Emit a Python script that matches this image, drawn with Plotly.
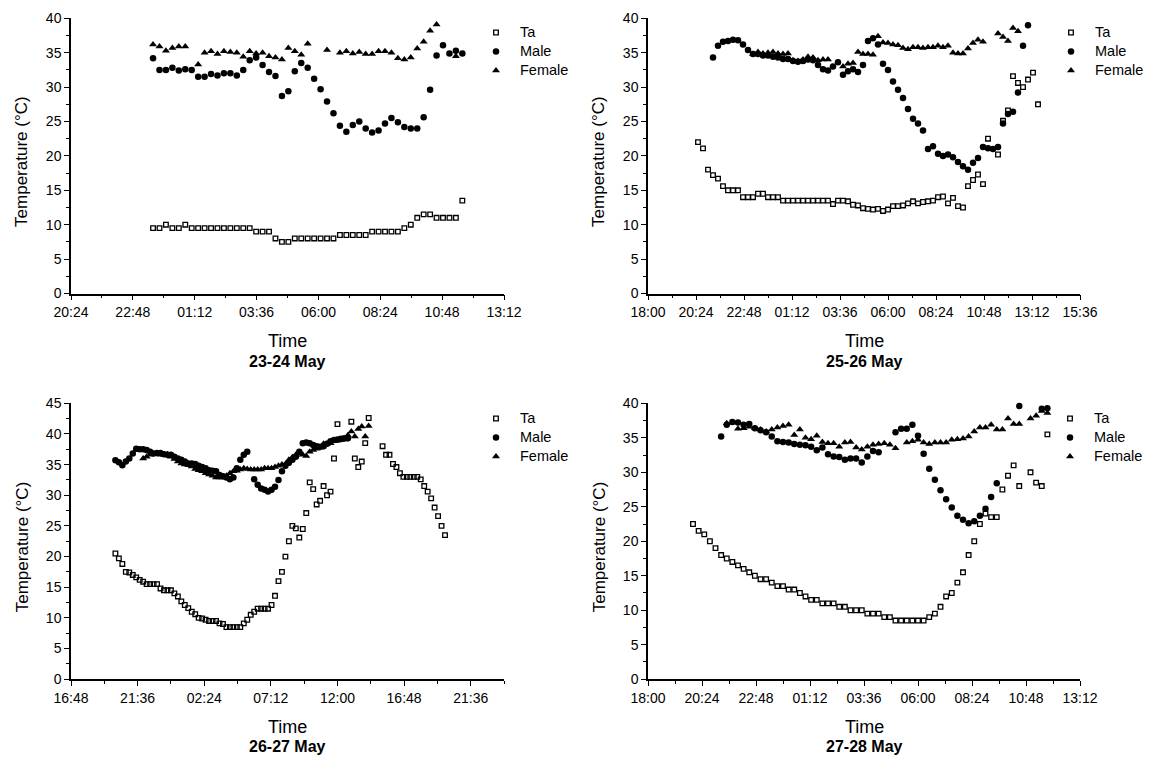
import plotly.graph_objects as go
from datetime import datetime, timedelta

# ---------------- data ----------------
# Panel 1: 23-24 May
p1_times = ("23:35 23:50 00:05 00:20 00:35 00:50 01:05 01:20 01:35 01:50 02:05 02:20 02:35 02:50 "
            "03:05 03:20 03:35 03:50 04:05 04:20 04:35 04:50 05:05 05:20 05:35 05:50 06:05 06:20 "
            "06:35 06:50 07:05 07:20 07:35 07:50 08:05 08:20 08:35 08:50 09:05 09:20 09:35 09:50 "
            "10:05 10:20 10:35 10:50 11:05 11:20 11:35").split()
p1_ta = [9.5, 9.5, 10, 9.5, 9.5, 10, 9.5, 9.5, 9.5, 9.5,
         9.5, 9.5, 9.5, 9.5, 9.5, 9.5, 9.0, 9.0, 9.0, 8.0,
         7.5, 7.5, 8.0, 8.0, 8.0, 8.0, 8.0, 8.0, 8.0, 8.5,
         8.5, 8.5, 8.5, 8.5, 9.0, 9.0, 9.0, 9.0, 9.0, 9.5,
         10, 11, 11.5, 11.5, 11, 11, 11, 11, 13.5]
p1_male = [34.2, 32.5, 32.5, 32.8, 32.4, 32.6, 32.5, 31.5, 31.5, 31.9,
           31.7, 32.0, 32.0, 31.7, 32.5, 33.9, 34.3, 33.2, 32.2, 31.6,
           28.7, 29.4, 32.3, 33.5, 32.8, 31.2, 29.7, 27.9, 26.2, 24.4,
           23.5, 24.5, 25.0, 24.0, 23.4, 23.7, 24.7, 25.5, 24.9, 24.2,
           24.0, 24.0, 25.6, 29.6, 34.6, 36.1, 34.9, 35.3, 34.9]
p1_female = [36.2, 35.9, 35.3, 35.7, 35.9, 35.9, None, 33.3, 35.0, 35.2,
             34.8, 35.2, 35.1, 35.0, 34.4, 35.2, 34.9, 35.0, 34.5, 34.3,
             34.0, 35.7, 35.2, 34.7, 36.3, None, None, 35.4, None, 35.0,
             35.2, 34.9, 35.1, 34.8, 34.8, 35.2, 35.2, 35.0, 34.2, 34.0,
             34.3, 35.6, 36.6, 38.2, 39.1, None, None, 34.5, None]

# Panel 2: 25-26 May
p2_times = ("20:30 20:45 21:00 21:15 21:30 21:45 22:00 22:15 22:30 22:45 23:00 23:15 23:30 23:45 "
            "00:00 00:15 00:30 00:45 01:00 01:15 01:30 01:45 02:00 02:15 02:30 02:45 03:00 03:15 "
            "03:30 03:45 04:00 04:15 04:30 04:45 05:00 05:15 05:30 05:45 06:00 06:15 06:30 06:45 "
            "07:00 07:15 07:30 07:45 08:00 08:15 08:30 08:45 09:00 09:15 09:30 09:45 10:00 10:15 "
            "10:30 10:45 11:00 11:15 11:30 11:45 12:00 12:15 12:30 12:45 13:00 13:15 13:30").split()
p2_ta = [22.0, 21.1, 18.0, 17.2, 16.7, 15.6, 15.0, 15.0, 15.0, 14.0,
         14.0, 14.0, 14.5, 14.5, 14.0, 14.0, 14.0, 13.5, 13.5, 13.5,
         13.5, 13.5, 13.5, 13.5, 13.5, 13.5, 13.5, 13.0, 13.5, 13.5,
         13.4, 12.9, 12.8, 12.4, 12.3, 12.2, 12.3, 12.0, 12.2, 12.7,
         12.7, 12.8, 13.1, 13.4, 13.1, 13.3, 13.4, 13.5, 14.0, 14.1,
         13.1, 13.9, 12.7, 12.5, 15.6, 16.5, 17.3, 15.9, 22.5, None,
         20.2, 25.1, 26.6, 31.6, 30.6, 30.0, 31.1, 32.1, 27.5]
p2_male = [None, None, None, 34.3, 36.0, 36.6, 36.7, 36.9, 36.8, 36.2,
           35.4, 34.8, 34.8, 34.6, 34.6, 34.4, 34.3, 34.1, 34.1, 33.8,
           33.7, 33.8, 34.0, 33.9, 33.2, 32.6, 32.4, 33.0, 33.6, 31.8,
           32.3, 32.6, 32.2, 33.2, 36.7, 37.1, 36.2, 33.4, 32.5, 30.8,
           29.6, 28.4, 26.8, 25.4, 24.7, 23.7, 21.0, 21.4, 20.3, 20.0,
           20.2, 19.8, 19.1, 18.5, 18.0, 19.0, 19.7, 21.3, 21.1, 21.0,
           21.3, 24.7, 26.1, 26.4, 29.2, 36.0, 39.0, None, None]
p2_female = [None, None, None, None, None, None, None, None, None, None,
             None, 34.8, 35.1, 34.9, 35.0, 35.1, 34.9, 34.8, 34.9, 33.9,
             33.8, 34.0, 34.4, 34.3, 33.9, 34.0, 34.0, None, None, 33.0,
             33.4, 33.5, 35.1, 34.8, 34.8, 34.7, 37.4, 36.5, 36.4, 36.2,
             36.1, 35.7, 35.5, 35.8, 35.8, 35.7, 35.8, 35.8, 36.0, 35.8,
             36.0, 35.0, 34.9, 34.9, 35.6, 36.4, 36.9, 36.6, None, None,
             37.8, 37.3, 36.7, 38.6, 38.1, None, None, None, None]

# Panel 3: 26-27 May
p3_times = ("20:00 20:15 20:30 20:45 21:00 21:15 21:30 21:45 22:00 22:15 22:30 22:45 23:00 23:15 "
            "23:30 23:45 00:00 00:15 00:30 00:45 01:00 01:15 01:30 01:45 02:00 02:15 02:30 02:45 "
            "03:00 03:15 03:30 03:45 04:00 04:15 04:30 04:45 05:00 05:15 05:30 05:45 06:00 06:15 "
            "06:30 06:45 07:00 07:15 07:30 07:45 08:00 08:15 08:30 08:45 09:00 09:15 09:30 09:45 "
            "10:00 10:15 10:30 10:45 11:00 11:15 11:30 11:45 12:00 12:15 12:30 12:45 13:00 13:15 "
            "13:30 13:45 14:00 14:15 14:30 14:45 15:00 15:15 15:30 15:45 16:00 16:15 16:30 16:45 "
            "17:00 17:15 17:30 17:45 18:00 18:15 18:30 18:45 19:00 19:15 19:30 19:45").split()
p3_ta = [20.5, 19.7, 18.8, 17.5, 17.4, 17.0, 16.6, 16.2, 15.9, 15.5,
         15.5, 15.5, 15.5, 14.8, 14.5, 14.5, 14.5, 14.0, 13.5, 12.7,
         12.1, 11.6, 11.0, 10.6, 10.0, 9.9, 9.7, 9.5, 9.5, 9.5,
         9.1, 9.0, 8.5, 8.5, 8.5, 8.5, 8.5, 9.1, 9.7, 10.5,
         11.0, 11.5, 11.5, 11.5, 11.5, 12.1, 13.6, 16.0, 17.5, 20.0,
         22.5, 25.0, 24.6, 23.1, 24.5, 27.1, 32.1, 31.0, 28.5, 29.1,
         31.5, 30.0, 30.6, 36.0, 41.6, None, None, None, 42.0, 36.0,
         34.6, 35.5, 38.5, 42.6, None, None, None, 38.0, 36.6, 36.6,
         35.1, 34.6, 33.6, 33.0, 33.0, 33.0, 33.0, 33.0, 32.6, 31.5,
         30.6, 29.5, 28.0, 26.6, 25.0, 23.5]
p3_male = [35.7, 35.4, 34.9, 35.5, 36.0, 36.8, 37.6, 37.5, 37.5, 37.4,
           37.1, 36.8, 36.9, 36.9, 36.7, 36.6, 36.6, 36.3, 36.0, 35.8,
           35.5, 35.2, 35.2, 35.1, 34.8, 34.6, 34.4, 34.1, 34.0, 33.9,
           33.3, 33.1, 32.9, 32.6, 32.9, 34.4, 35.8, 36.6, 37.1, None,
           32.6, 31.7, 31.1, 30.9, 30.6, 30.9, 31.4, 32.5, 33.9, 34.8,
           35.3, 35.8, 36.3, 37.1, 38.5, 38.6, 38.5, 38.2, 38.0, 37.9,
           38.0, 38.4, 38.8, 39.0, 39.1, 39.2, 39.3, 39.3] + [None] * 28
p3_female = [None] * 8 + [
             36.0, 36.3,
             36.6, 36.7, 36.8, 36.6, 36.6, 36.7, 36.3, 35.9, 35.5, 35.2,
             35.0, 34.9, 34.7, 34.3, 34.1, 33.9, 33.6, 33.4, 33.2, 32.9,
             32.9, 32.9, 33.2, 33.6, 33.9, 34.0, 34.2, 34.4, 34.3, 34.2,
             34.2, 34.2, 34.2, 34.4, 34.4, 34.4, 34.6, 34.8, 35.0, 35.1,
             35.8, 36.2, 36.6, 36.8, 36.6, 36.4, 37.1, 37.4, 37.6, 37.8,
             38.4, 38.4, 38.5, 38.8, 38.9, 39.0, 39.1, 39.8, 40.4, 39.6,
             40.8, 41.2, 39.6, 41.3] + [None] * 22

# Panel 4: 27-28 May
p4_times = ("20:00 20:15 20:30 20:45 21:00 21:15 21:30 21:45 22:00 22:15 22:30 22:45 23:00 23:15 "
            "23:30 23:45 00:00 00:15 00:30 00:45 01:00 01:15 01:30 01:45 02:00 02:15 02:30 02:45 "
            "03:00 03:15 03:30 03:45 04:00 04:15 04:30 04:45 05:00 05:15 05:30 05:45 06:00 06:15 "
            "06:30 06:45 07:00 07:15 07:30 07:45 08:00 08:15 08:30 08:45 09:00 09:15 09:30 09:45 "
            "10:00 10:15 10:30 10:45 11:00 11:15 11:30 11:45").split()
p4_ta = [22.5, 21.5, 21.0, 20.0, 19.0, 18.0, 17.5, 17.0, 16.5, 16.0,
         15.5, 15.0, 14.5, 14.5, 14.0, 13.5, 13.5, 13.0, 13.0, 12.5,
         12.0, 11.5, 11.5, 11.0, 11.0, 11.0, 10.5, 10.5, 10.0, 10.0,
         10.0, 9.5, 9.5, 9.5, 9.0, 9.0, 8.5, 8.5, 8.5, 8.5,
         8.5, 8.5, 9.0, 9.5, 10.5, 12.0, 12.5, 14.0, 15.5, 18.0,
         20.0, 22.5, 24.0, 23.5, 23.5, 27.5, 29.5, 31.0, 28.0, None,
         30.0, 28.5, 28.0, 35.5]
p4_male = [None, None, None, None, None, 35.2, 36.9, 37.3, 37.2, 36.9,
           37.0, 36.4, 36.1, 35.8, 35.2, 34.5, 34.4, 34.3, 34.1, 34.0,
           33.9, 33.7, 33.2, 33.6, 32.6, 32.3, 32.2, 31.8, 32.0, 32.0,
           31.4, 32.3, 33.1, 32.9, None, None, 35.8, 36.3, 36.3, 36.9,
           35.3, 32.7, 30.5, 28.9, 27.4, 26.1, 24.9, 23.7, 23.1, 22.6,
           22.9, 23.7, 24.7, 26.4, 28.4, None, None, None, 39.6, None,
           None, None, 39.2, 39.3]
p4_female = [None, None, None, None, None, None, 37.1, 37.2, 36.3, 36.4,
             36.6, 36.4, 36.2, 35.9, 36.2, 36.5, 36.7, 36.9, 35.4, 36.2,
             35.0, 34.8, 35.3, 34.4, 34.2, 34.2, 33.7, 34.3, 34.4, 33.6,
             33.3, 33.7, 34.0, 34.1, 34.2, 34.0, 33.5, None, 34.3, 34.5,
             34.7, 34.3, 34.1, 34.3, 34.3, 34.3, 34.7, 34.8, 34.9, 35.2,
             35.9, 36.5, 36.5, 36.9, 36.2, 36.2, 37.8, 37.0, 37.0, None,
             37.8, 38.2, 38.9, 38.6]

panel_dates = ["2000-05-23", "2000-05-25", "2000-05-26", "2000-05-27"]
panel_labels = ["23-24 May", "25-26 May", "26-27 May", "27-28 May"]
series_names = ["Ta", "Male", "Female"]

# ---------------- helpers ----------------
def to_datetimes(base, times):
    d0 = datetime.strptime(base, "%Y-%m-%d")
    out, day, prev = [], 0, None
    for t in times:
        h, m = map(int, t.split(":"))
        mins = h * 60 + m
        if prev is not None and mins < prev:
            day += 1
        prev = mins
        out.append(d0 + timedelta(days=day, minutes=mins))
    return out

W, H = 1149, 759
def px(x):
    return x / W
def py(y):
    return 1 - y / H

FONT = "Liberation Sans, Arial, Helvetica, sans-serif"
styles = {
    "Ta": dict(symbol="square-open", size=4.6, color="black", line=dict(width=1.3, color="black")),
    "Male": dict(symbol="circle", size=6.5, color="black", line=dict(width=0)),
    "Female": dict(symbol="triangle-up", size=7, color="black", line=dict(width=0)),
}

panels = [
    (p1_times, p1_ta, p1_male, p1_female),
    (p2_times, p2_ta, p2_male, p2_female),
    (p3_times, p3_ta, p3_male, p3_female),
    (p4_times, p4_ta, p4_male, p4_female),
]

# plot-area pixel boxes (left, right, top, bottom)
boxes = [(71, 504, 18.3, 293.5), (648, 1080, 18.3, 293.5),
         (71, 504, 403.3, 679.2), (648, 1080, 403.3, 679.2)]

xranges = [("2000-05-23 20:24", "2000-05-24 13:12"),
           ("2000-05-25 18:00", "2000-05-26 15:36"),
           ("2000-05-26 16:48", "2000-05-28 00:00"),
           ("2000-05-27 18:00", "2000-05-28 13:12")]
H24 = 8640000  # 2.4 h in ms
xdticks = [H24, H24, 2 * H24, H24]
yranges = [(0, 40), (0, 40), (0, 45), (0, 40)]

# legend symbol centre (x) and first-row centre (y), in pixels
legend_pos = [(496, 33), (1071, 33), (496, 419), (1070, 419)]

def legend_label(name):
    return '<span style="font-size:14.5px">' + name + '</span>'

fig = go.Figure()
for k, (times, ta, male, female) in enumerate(panels):
    xs = to_datetimes(panel_dates[k], times)
    sfx = "" if k == 0 else str(k + 1)
    for name, vals in zip(series_names, (ta, male, female)):
        fig.add_trace(go.Scatter(
            x=xs, y=vals, mode="markers", name=legend_label(name),
            marker=styles[name], cliponaxis=False,
            xaxis="x" + sfx, yaxis="y" + sfx,
            legend="legend" + sfx, showlegend=True,
        ))

layout = dict(width=W, height=H, margin=dict(l=0, r=0, t=0, b=0, autoexpand=False),
              paper_bgcolor="white", plot_bgcolor="white",
              font=dict(family=FONT, color="black"))
annotations = []
for k in range(4):
    sfx = "" if k == 0 else str(k + 1)
    l, r, t, b = boxes[k]
    layout["xaxis" + sfx] = dict(
        domain=[px(l), px(r)], anchor="y" + sfx, type="date", automargin=False,
        range=list(xranges[k]), tick0=xranges[k][0], dtick=xdticks[k],
        tickformat="%H:%M", ticks="outside", ticklen=5, tickwidth=1.3, tickcolor="black",
        showline=True, linecolor="black", linewidth=1.5, showgrid=False, zeroline=False,
        tickfont=dict(size=14, family=FONT, color="black"),
        minor=dict(ticks="outside", ticklen=3, tickwidth=1.3, tickcolor="black",
                   tick0=xranges[k][0], dtick=xdticks[k] / 2, showgrid=False),
    )
    layout["yaxis" + sfx] = dict(
        domain=[py(b), py(t)], anchor="x" + sfx, range=list(yranges[k]), automargin=False,
        tick0=0, dtick=5, ticks="outside", ticklen=5, tickwidth=1.3, tickcolor="black",
        showline=True, linecolor="black", linewidth=1.5, showgrid=False, zeroline=False,
        tickfont=dict(size=14, family=FONT, color="black"),
        minor=dict(ticks="outside", ticklen=3, tickwidth=1.3, tickcolor="black",
                   tick0=0, dtick=2.5, showgrid=False),
    )
    mx, my = legend_pos[k]
    layout["legend" + sfx] = dict(
        x=px(mx - 24), y=py(my - 15), xanchor="left", yanchor="top",
        bgcolor="rgba(0,0,0,0)", borderwidth=0,
        font=dict(size=12, family=FONT, color="black"),
        tracegroupgap=0, itemwidth=38,
    )
    cx = (l + r) / 2
    annotations.append(dict(text="Temperature (°C)", textangle=-90, xref="paper", yref="paper",
                            x=px(l - 49), y=py((t + b) / 2 + 6), xanchor="center", yanchor="middle",
                            showarrow=False, font=dict(size=17, family=FONT, color="black")))
    annotations.append(dict(text="Time", xref="paper", yref="paper",
                            x=px(cx), y=py(b + 47.5), xanchor="center", yanchor="middle",
                            showarrow=False, font=dict(size=18, family=FONT, color="black")))
    annotations.append(dict(text="<b>" + panel_labels[k] + "</b>", xref="paper", yref="paper",
                            x=px(cx), y=py(b + 67.5), xanchor="center", yanchor="middle",
                            showarrow=False, font=dict(size=16, family=FONT, color="black")))
layout["annotations"] = annotations
fig.update_layout(**layout)

fig.write_html("out.html", config={"displayModeBar": False},
               post_script="document.body.style.margin='0';document.body.style.overflow='hidden';")
